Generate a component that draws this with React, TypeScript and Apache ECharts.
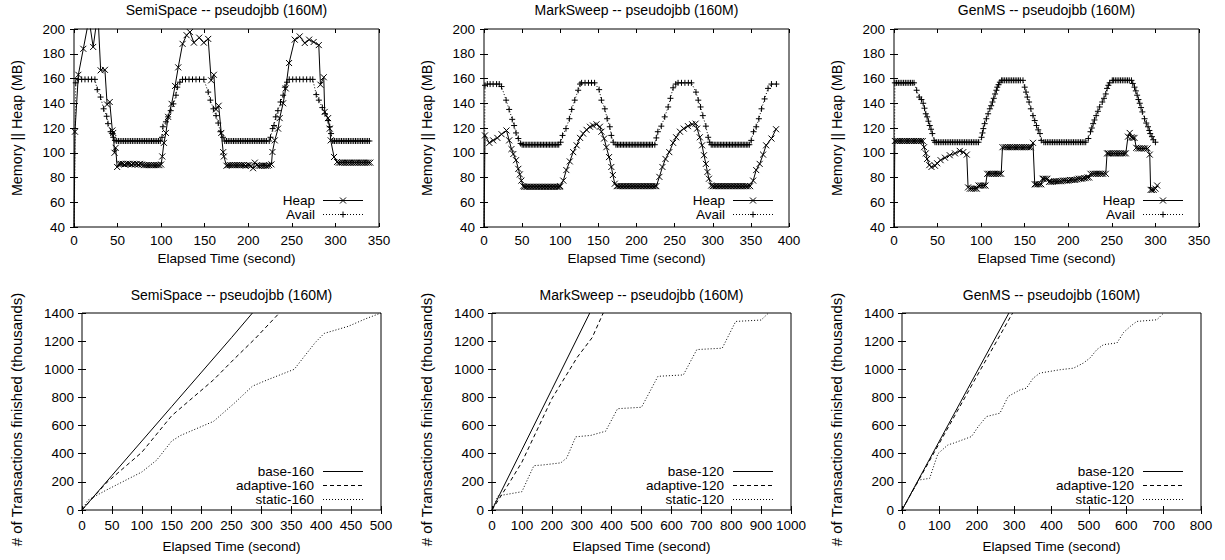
import React, { useEffect, useRef } from "react";
import * as echarts from "echarts";

const FONT = "'Liberation Sans', Arial, Helvetica, sans-serif";

const titles = ["SemiSpace -- pseudojbb (160M)", "MarkSweep -- pseudojbb (160M)", "GenMS -- pseudojbb (160M)"];
const memXMax = [350, 400, 350];
const txXMax = [500, 1000, 800];
const txXInterval = [50, 100, 100];
const memNames = ["Heap", "Avail"];
const txNames = [
  ["base-160", "adaptive-160", "static-160"],
  ["base-120", "adaptive-120", "static-120"],
  ["base-120", "adaptive-120", "static-120"],
];

// SemiSpace memory
const ssHeap = [
  [0, 30], [1.1, 117], [5, 163], [10.7, 184], [17.2, 208], [22, 185.5], [27.4, 213], [30.6, 166.6], [35.5, 167], [38, 139], [41, 141], [44, 118], [45, 116], [46.5, 100], [47.8, 104], [49.5, 88.5],
  [52, 91], [54, 91], [56, 91], [58, 90.5], [60, 91], [62, 91], [64, 91], [66, 90.5], [68, 91], [70, 90.5], [72, 91], [74, 90.5], [76, 91], [78, 90.5], [80, 90], [82, 90], [84, 90], [86, 90], [88, 90], [90, 90], [92, 90], [94, 90], [96, 90], [98, 90], [100, 90.5],
  [101.3, 97], [103.2, 108], [105.5, 116], [108, 129], [112, 139.5], [116, 154], [119.6, 169], [124.6, 188], [129.2, 195], [133, 197.5], [137.6, 189], [143.7, 193], [149, 189], [154, 192], [157.4, 158.5], [160.5, 163], [163, 135], [166, 138], [169, 116], [171.2, 100.5], [172, 97], [175, 89.5],
  [177, 90], [179, 90], [181, 90], [183, 90], [185, 90], [187, 90], [189, 90], [191, 90], [193, 90], [195, 90], [197, 89.5], [199, 90], [201, 90], [203, 89.5], [205.5, 87.5], [207.5, 92], [210, 90], [212, 89.5], [214, 89.5], [216, 89.5], [218, 89.5], [220, 89.5], [222, 89.5], [224, 90],
  [226.6, 90.6], [227.7, 100.6], [230.4, 110], [234.2, 119.5], [236, 128], [240, 140], [243, 152], [246.8, 172.5], [253.3, 191.4], [259, 194], [264.8, 188.7], [269.8, 191.4], [275, 189.5], [280.9, 187], [282.8, 155], [286.6, 161], [287.7, 133], [291.6, 128], [293.5, 119.5], [294.6, 110], [298.4, 96.6], [301.9, 92.5],
  [304, 92], [306, 92], [308, 92], [310, 92], [312, 92], [314, 92], [316, 92], [318, 92], [320, 92], [322, 92], [324, 92], [326, 92], [328, 92], [330, 92], [332, 92], [334, 92], [336, 92], [338, 92], [340, 92],
];
const ssAvail = [
  [0, 30], [2, 156.5], [5, 159.3], [8.8, 159.3], [12.6, 159.3], [16.4, 159.3], [20.2, 159.3], [24, 159.3], [26.7, 151], [30.5, 145], [34, 135.5], [37.5, 129.5], [39, 123.5], [42, 117], [44, 115.5], [45, 112.5], [47, 110],
  [49, 109.5], [51, 109.5], [53, 109.5], [55, 109.5], [57, 109.5], [59, 109.5], [61, 109.5], [63, 109.5], [65, 109.5], [67, 109.5], [69, 109.5], [71, 109.5], [73, 109.5], [75, 109.5], [77, 109.5], [79, 109.5], [81, 109.5], [83, 109.5], [85, 109.5], [87, 109.5], [89, 109.5], [91, 109.5], [93, 109.5], [95, 109.5], [97, 109.5], [99, 109.5],
  [101, 112.5], [102, 121], [105.5, 125], [108, 129], [111, 134], [114, 139.5], [117, 146.5], [118.5, 153], [121.5, 157], [124.5, 159.3], [128, 159.3], [132, 159.3], [136, 159.3], [140, 159.3], [144, 159.3], [149, 159.3], [154, 149], [156.5, 142.5], [160, 135.5], [163, 130], [165.5, 124], [168, 117], [171, 112.5], [173, 109.5],
  [175, 109.5], [177, 109.5], [179, 109.5], [181, 109.5], [183, 109.5], [185, 109.5], [187, 109.5], [189, 109.5], [191, 109.5], [193, 109.5], [195, 109.5], [197, 109.5], [199, 109.5], [201, 109.5], [203, 109.5], [205, 109.5], [207, 109.5], [209, 109.5], [211, 109.5], [213, 109.5], [215, 109.5], [217, 109.5], [219, 109.5], [221, 109.5], [224, 109.5],
  [225.5, 112.5], [228, 119.5], [229.5, 122], [231.5, 129], [234, 134], [237, 141], [240, 146.5], [242, 153], [244.5, 157], [247, 159.3], [251, 159.3], [255, 159.3], [259, 159.3], [263, 159.3], [267, 159.3], [271, 159.3], [274, 159.3], [278, 147], [281, 142.5], [285, 136.5], [288, 131.5], [291.5, 126], [293.5, 121], [295, 115.5], [297, 109.5],
  [299, 109.5], [301, 109.5], [303, 109.5], [305, 109.5], [307, 109.5], [309, 109.5], [311, 109.5], [313, 109.5], [315, 109.5], [317, 109.5], [319, 109.5], [321, 109.5], [323, 109.5], [325, 109.5], [327, 109.5], [329, 109.5], [331, 109.5], [333, 109.5], [335, 109.5], [337, 109.5], [339, 109.5],
];

// MarkSweep memory
const msHeap = [
  [0, 30], [1.3, 114], [7, 108], [12, 110], [17.5, 112], [23, 115], [29.5, 118], [33, 110], [36, 103], [38.5, 99], [42, 94], [45, 87], [47, 82.5], [49, 77.5], [51.5, 73],
  [53, 72.5], [55, 72.5], [57, 72.5], [59, 72.5], [61, 72.5], [63, 72.5], [65, 72.5], [67, 72.5], [69, 72.5], [71, 72.5], [73, 72.5], [75, 72.5], [77, 72.5], [79, 72.5], [81, 72.5], [83, 72.5], [85, 72.5], [87, 72.5], [89, 72.5], [91, 72.5], [93, 72.5], [95, 72.5], [97, 72.5], [99, 72.5],
  [100, 73], [104, 77.5], [108, 86], [112.5, 93], [117, 100.5], [121.5, 106], [126, 112], [130, 115.5], [134.5, 118.5], [139, 121], [143, 122], [147.5, 123], [152, 121], [154, 117], [157.5, 111.5], [160.5, 104.5], [164, 96.5], [167, 88.5], [169, 82], [171.5, 75], [174, 73],
  [176, 73], [178, 73], [180, 73], [182, 73], [184, 73], [186, 73], [188, 73], [190, 73], [192, 73], [194, 73], [196, 73], [198, 73], [200, 73], [202, 73], [204, 73], [206, 73], [208, 73], [210, 73], [212, 73], [214, 73], [216, 73], [218, 73], [220, 73], [222, 73], [224, 73], [226, 73],
  [230, 80.5], [234, 88.5], [238, 95], [243, 100.5], [248, 108], [252, 112.5], [257, 117], [262, 119.5], [267.5, 121.5], [273, 123], [277.5, 123.5], [279.5, 119.5], [283, 112.5], [286, 106], [288.5, 98], [291, 91], [293, 84.5], [295, 79], [298, 73.5],
  [300, 73], [302, 73], [304, 73], [306, 73], [308, 73], [310, 73], [312, 73], [314, 73], [316, 73], [318, 73], [320, 73], [322, 73], [324, 73], [326, 73], [328, 73], [330, 73], [332, 73], [334, 73], [336, 73], [338, 73], [340, 73], [342, 73], [344, 73], [346, 73], [349, 73],
  [353, 77.5], [357, 86], [361.5, 91], [366, 98.5], [370, 106], [377, 111.5], [383, 119],
];
const msAvail = [
  [0, 30], [1.3, 154.5], [4.4, 155.5], [8, 155.5], [12, 155.5], [16.5, 155.5], [20, 155.5], [23, 153.5], [29, 142.5], [33, 135], [37, 127], [39.5, 122], [42, 116], [45, 111.5], [48, 107.5],
  [50, 106.5], [52, 106.5], [54, 106.5], [56, 106.5], [58, 106.5], [60, 106.5], [62, 106.5], [64, 106.5], [66, 106.5], [68, 106.5], [70, 106.5], [72, 106.5], [74, 106.5], [76, 106.5], [78, 106.5], [80, 106.5], [82, 106.5], [84, 106.5], [86, 106.5], [88, 106.5], [90, 106.5], [92, 106.5], [94, 106.5], [96, 106.5], [98, 106.5],
  [100.5, 108.5], [103, 114], [107.5, 119.5], [112, 127.5], [115, 135], [119, 142.5], [123.5, 150.5], [126, 155.5], [128, 156.5], [132.5, 156.5], [137, 156.5], [141, 156.5], [145, 156.5], [151, 151], [154, 142.5], [158.5, 135.5], [161.5, 127.5], [165, 121], [167, 114], [169.5, 108.5], [173, 106.5],
  [175, 106.5], [177, 106.5], [179, 106.5], [181, 106.5], [183, 106.5], [185, 106.5], [187, 106.5], [189, 106.5], [191, 106.5], [193, 106.5], [195, 106.5], [197, 106.5], [199, 106.5], [201, 106.5], [203, 106.5], [205, 106.5], [207, 106.5], [209, 106.5], [211, 106.5], [213, 106.5], [215, 106.5], [217, 106.5], [219, 106.5], [221, 106.5], [224, 106.5],
  [226, 112], [228, 117], [232.5, 121.5], [237, 129], [241.5, 137], [244.5, 144], [248, 152.5], [251.5, 155.5], [254.5, 156.5], [259, 156.5], [263.5, 156.5], [268, 156.5], [272, 156.5], [278, 149], [281, 142.5], [284, 137], [287, 130], [291, 121.5], [294, 112.5], [296, 108.5], [298, 106.5],
  [300, 106.5], [302, 106.5], [304, 106.5], [306, 106.5], [308, 106.5], [310, 106.5], [312, 106.5], [314, 106.5], [316, 106.5], [318, 106.5], [320, 106.5], [322, 106.5], [324, 106.5], [326, 106.5], [328, 106.5], [330, 106.5], [332, 106.5], [334, 106.5], [336, 106.5], [338, 106.5], [340, 106.5], [342, 106.5], [344, 106.5], [346, 106.5], [348, 106.5],
  [350.5, 110], [353.5, 117], [357, 121], [360.5, 127.5], [364, 135.5], [368, 143.5], [372.5, 152], [377, 155.5], [383.5, 155.5],
];

// GenMS memory
const gmHeap = [
  [0, 30], [1, 109.5], [3, 109.5], [5, 109.5], [7, 109.5], [9, 109.5], [11, 109.5], [13, 109.5], [15, 109.5], [17, 109.5], [19, 109.5], [21, 109.5], [23, 109.5], [25, 109.5], [27, 109.5], [29, 109.5], [31, 109.5], [33, 109.5],
  [34.5, 104.5], [36.5, 99.5], [38, 95], [40.5, 90], [43, 88.5], [47, 89.5], [49.5, 91.5], [53.5, 94], [58.5, 96], [64, 98], [70, 99.5], [75.5, 101.5], [79.5, 100.5], [83.5, 98.5],
  [85, 72], [87, 71], [89, 71], [91, 71], [93, 71], [95, 71], [97, 73.5], [99, 73.5], [101, 73.5], [103, 73.5], [105, 73.5],
  [107, 83], [109, 83], [111, 83], [113, 83], [115, 83], [117, 83], [119, 83], [121, 83], [123, 83],
  [124.5, 104.5], [127, 104.5], [129, 104.5], [131, 104.5], [133, 104.5], [135, 104.5], [137, 104.5], [139, 104.5], [141, 104.5], [143, 104.5], [145, 104.5], [147, 104.5], [149, 104.5], [151, 104.5], [153, 104.5], [155, 104.5], [157, 104.5], [159.5, 108],
  [161.5, 74.5], [163, 74.5], [165, 74.5], [167, 74.5], [169, 74.5], [170.5, 79], [172, 79], [174, 79], [176, 79],
  [178, 76.5], [180, 76.5], [182, 76.5], [184, 77], [186, 77], [188, 77], [190, 77], [192, 77], [194, 77.5], [196, 77.5], [198, 77.5], [200, 77.5], [202, 78], [204, 78], [206, 78], [208, 78], [210, 78.5], [212, 79], [214, 79], [216, 79], [218, 79.5], [220, 79.5], [222, 80], [224, 80],
  [225.5, 83], [228, 83], [230, 83], [232, 83], [234, 83], [236, 83], [238, 83], [240, 83], [243, 83],
  [244.5, 99.5], [246, 99.5], [248, 99.5], [250, 99.5], [252, 99.5], [254, 99.5], [256, 99.5], [258, 99.5], [260, 99.5], [262, 99.5], [264, 99.5], [266, 99.5],
  [268.5, 113], [270.5, 116], [272.5, 112.5], [274, 112], [276, 112], [278, 104], [280, 103.5], [282, 103.5], [284, 103.5], [286, 103.5], [288, 103.5], [291, 103.5], [293.5, 98.5],
  [294.5, 70], [296, 70], [298, 70], [300, 71], [302, 73.5],
];
const gmAvail = [
  [0, 30], [1, 156.5], [3, 156.5], [5, 156.5], [7, 156.5], [9, 156.5], [11, 156.5], [13, 156.5], [15, 156.5], [17, 156.5], [19, 156.5], [21, 156.5], [23, 156.5],
  [26, 150.5], [29, 145], [31.5, 143], [33.5, 140], [35, 136], [36.5, 131.5], [38, 129], [39.5, 125.5], [41, 122], [42.5, 119], [44, 115.5], [46, 110], [47, 108.5],
  [49, 108.5], [51, 108.5], [53, 108.5], [55, 108.5], [57, 108.5], [59, 108.5], [61, 108.5], [63, 108.5], [65, 108.5], [67, 108.5], [69, 108.5], [71, 108.5], [73, 108.5], [75, 108.5], [77, 108.5], [79, 108.5], [81, 108.5], [83, 108.5], [85, 108.5], [87, 108.5], [89, 108.5], [91, 108.5], [93, 108.5], [95, 108.5], [97, 108.5],
  [100.5, 112.5], [101.5, 116], [102.5, 119.5], [104, 123.5], [106, 127.5], [108, 131.5], [110, 135.5], [111.5, 138], [113, 141], [114.5, 144], [116, 147.5], [117.5, 150.5], [118.5, 153], [120, 155], [121.5, 157], [123.5, 158.5],
  [125, 158.5], [127, 158.5], [129, 158.5], [131, 158.5], [133, 158.5], [135, 158.5], [137, 158.5], [139, 158.5], [141, 158.5], [143, 158.5], [145, 158.5], [148, 158.5],
  [150, 153], [151.5, 149], [153, 145], [155, 141], [157, 135.5], [159.5, 130], [161.5, 126], [163.5, 122], [165.5, 118.5], [167.5, 115.5], [169, 110], [172, 108.5],
  [174, 108.5], [176, 108.5], [178, 108.5], [180, 108.5], [182, 108.5], [184, 108.5], [186, 108.5], [188, 108.5], [190, 108.5], [192, 108.5], [194, 108.5], [196, 108.5], [198, 108.5], [200, 108.5], [202, 108.5], [204, 108.5], [206, 108.5], [208, 108.5], [210, 108.5], [212, 108.5], [214, 108.5], [216, 108.5], [218, 108.5], [220, 108.5],
  [223, 111.5], [225.5, 117], [227, 120], [228.5, 123.5], [230, 126.5], [232, 130], [234, 133.5], [236, 137], [239, 141], [241, 144], [243, 147.5], [244.5, 152], [246, 154.5], [247.5, 156.5], [250.5, 158.5],
  [252, 158.5], [254, 158.5], [256, 158.5], [258, 158.5], [260, 158.5], [262, 158.5], [264, 158.5], [266, 158.5], [268, 158.5], [270, 158.5], [272.5, 158.5],
  [274, 156], [276, 153], [277.5, 150], [279, 146.5], [280.5, 143], [282, 140], [283.5, 136.5], [285, 133], [287.5, 127.5], [289.5, 124], [291.5, 121], [293, 118], [294, 115.5], [296, 113], [297.5, 110.5], [300, 108.5],
];

// Transactions
const ssBase = [[0, 0], [50, 245], [100, 490], [150, 735], [200, 980], [250, 1225], [285, 1400]];
const ssAdaptive = [[0, 0], [40, 190], [100, 410], [150, 670], [220, 925], [255, 1075], [290, 1220], [330, 1400]];
const ssStatic = [[0, 0], [10, 70], [40, 140], [100, 270], [125, 355], [150, 490], [165, 530], [220, 630], [255, 760], [285, 880], [310, 925], [355, 1000], [365, 1055], [390, 1190], [405, 1255], [445, 1305], [475, 1360], [500, 1400]];

const msBase = [[0, 0], [100, 428], [200, 856], [327, 1400]];
const msAdaptive = [[0, 0], [60, 200], [100, 340], [200, 790], [285, 1085], [335, 1225], [372, 1400]];
const msStatic = [[0, 0], [20, 100], [100, 130], [140, 315], [170, 320], [230, 335], [250, 370], [280, 520], [330, 530], [380, 560], [420, 720], [500, 730], [555, 950], [640, 960], [685, 1140], [770, 1150], [815, 1340], [900, 1350], [925, 1400]];

const gmBase = [[0, 0], [100, 490], [200, 980], [286, 1400]];
const gmAdaptive = [[0, 0], [100, 475], [200, 950], [296, 1400]];
const gmStatic = [[0, 0], [45, 213], [74, 225], [96, 400], [123, 463], [137, 474], [186, 522], [204, 593], [226, 664], [262, 688], [284, 807], [316, 854], [333, 866], [351, 937], [369, 973], [423, 997], [459, 1008], [485, 1044], [503, 1080], [521, 1139], [539, 1175], [575, 1187], [593, 1262], [611, 1305], [628, 1340], [682, 1352], [700, 1400]];

const memSeries = [[ssHeap, ssAvail], [msHeap, msAvail], [gmHeap, gmAvail]];
const txSeries = [[ssBase, ssAdaptive, ssStatic], [msBase, msAdaptive, msStatic], [gmBase, gmAdaptive, gmStatic]];

const X_SYM = "path://M0,0L6,6M6,0L0,6";
const P_SYM = "path://M3,0L3,6M0,3L6,3";
const DOT = [1, 2];
const DASH = [4, 3];

const memLeft = [74, 484, 894];
const txLeft = [82, 492, 902];

function axisPair(kind: "x" | "y", gridIndex: number, min: number, max: number, interval: number, name: string, gap: number, margin: number, nameSize: number, namePad: number[]) {
  const tick = { inside: true, length: 4, lineStyle: { color: "#000", width: 1 } };
  const main: any = {
    type: "value", gridIndex, min, max, interval,
    position: kind === "x" ? "bottom" : "left",
    name, nameLocation: "middle", nameGap: gap,
    nameTextStyle: { color: "#000", fontSize: nameSize, fontFamily: FONT, padding: namePad },
    axisLine: { show: false }, axisTick: tick,
    axisLabel: { color: "#000", fontSize: 13.5, fontFamily: FONT, margin, formatter: (v: number) => String(v) },
    splitLine: { show: false },
  };
  const mirror: any = {
    type: "value", gridIndex, min, max, interval,
    position: kind === "x" ? "top" : "right",
    axisLine: { show: false }, axisTick: tick,
    axisLabel: { show: false }, splitLine: { show: false },
  };
  return [main, mirror];
}

function legendItems(textRight: number, lineL: number, lineR: number, ys: number[], names: string[], dashes: any[], markers: (string | null)[]) {
  const els: any[] = [];
  names.forEach((n, i) => {
    const y = ys[i];
    els.push({ type: "text", x: textRight, y, style: { text: n, fill: "#000", fontSize: 13.5, fontFamily: FONT, align: "right", verticalAlign: "middle" } });
    els.push({ type: "line", shape: { x1: lineL, y1: y + 0.5, x2: lineR, y2: y + 0.5 }, style: { stroke: "#000", lineWidth: 1, lineDash: dashes[i] } });
    const m = markers[i];
    const cx = (lineL + lineR) / 2;
    if (m === "x") {
      els.push({ type: "line", shape: { x1: cx - 3, y1: y - 2.5, x2: cx + 3, y2: y + 3.5 }, style: { stroke: "#000", lineWidth: 1 } });
      els.push({ type: "line", shape: { x1: cx - 3, y1: y + 3.5, x2: cx + 3, y2: y - 2.5 }, style: { stroke: "#000", lineWidth: 1 } });
    } else if (m === "+") {
      els.push({ type: "line", shape: { x1: cx, y1: y - 2.5, x2: cx, y2: y + 3.5 }, style: { stroke: "#000", lineWidth: 1 } });
      els.push({ type: "line", shape: { x1: cx - 3, y1: y + 0.5, x2: cx + 3, y2: y + 0.5 }, style: { stroke: "#000", lineWidth: 1 } });
    }
  });
  return els;
}

export default function App() {
  const ref = useRef<HTMLDivElement>(null);
  useEffect(() => {
    if (!ref.current) return;
    const chart = echarts.init(ref.current, null, { renderer: "svg" });
    const grid: any[] = [];
    const xAxis: any[] = [];
    const yAxis: any[] = [];
    const series: any[] = [];
    const title: any[] = [];
    const graphic: any[] = [];

    for (let i = 0; i < 3; i++) {
      // memory plot
      const g = 2 * i;
      grid.push({ left: memLeft[i], top: 29, width: 305, height: 198, show: true, borderColor: "#000", borderWidth: 1, backgroundColor: "transparent" });
      xAxis.push(...axisPair("x", g, 0, memXMax[i], 50, "Elapsed Time (second)", 24, 6, 13.5, [0, 0, 0, 0]));
      yAxis.push(...axisPair("y", g, 40, 200, 20, "Memory || Heap (MB)", 50, 9, 14.3, [0, 0, 0, 0]));
      title.push({ text: titles[i], left: memLeft[i] + 152.5, top: 3, textAlign: "center", padding: 0, textStyle: { color: "#000", fontSize: 14, fontWeight: "normal", fontFamily: FONT } });
      const [heap, avail] = memSeries[i];
      series.push({
        type: "line", name: memNames[0], xAxisIndex: 2 * g, yAxisIndex: 2 * g, data: heap,
        symbol: X_SYM, symbolSize: 6, showSymbol: true, clip: true, silent: true,
        lineStyle: { color: "#000", width: 1, type: "solid" },
        itemStyle: { color: "#000", borderColor: "#000", borderWidth: 1 },
      });
      series.push({
        type: "line", name: memNames[1], xAxisIndex: 2 * g, yAxisIndex: 2 * g, data: avail,
        symbol: P_SYM, symbolSize: 6, showSymbol: true, clip: true, silent: true,
        lineStyle: { color: "#000", width: 1, type: DOT },
        itemStyle: { color: "#000", borderColor: "#000", borderWidth: 1 },
      });
      graphic.push(...legendItems(memLeft[i] + 241, memLeft[i] + 249, memLeft[i] + 289, [200, 214], memNames, [null, DOT], ["x", "+"]));

      // transactions plot
      const t = 2 * i + 1;
      grid.push({ left: txLeft[i], top: 313, width: 299, height: 197, show: true, borderColor: "#000", borderWidth: 1, backgroundColor: "transparent" });
      xAxis.push(...axisPair("x", t, 0, txXMax[i], txXInterval[i], "Elapsed Time (second)", 29, 8, 13.5, [0, 0, 0, 0]));
      yAxis.push(...axisPair("y", t, 0, 1400, 200, "# of Transactions finished (thousands)", 58, 8, 15, [0, 16, 0, 0]));
      title.push({ text: titles[i], left: txLeft[i] + 149.5, top: 288, textAlign: "center", padding: 0, textStyle: { color: "#000", fontSize: 14, fontWeight: "normal", fontFamily: FONT } });
      const styles = ["solid", DASH, DOT];
      txSeries[i].forEach((d, k) => {
        series.push({
          type: "line", name: txNames[i][k], xAxisIndex: 2 * t, yAxisIndex: 2 * t, data: d,
          symbol: "none", showSymbol: false, clip: true, silent: true,
          lineStyle: { color: "#000", width: 1, type: styles[k] },
        });
      });
      graphic.push(...legendItems(txLeft[i] + 232, txLeft[i] + 241, txLeft[i] + 281, [471, 485, 499], txNames[i], [null, DASH, DOT], [null, null, null]));
    }

    chart.setOption({
      animation: false,
      backgroundColor: "#fff",
      textStyle: { fontFamily: FONT },
      title, grid, xAxis, yAxis, series, graphic,
    });
    return () => chart.dispose();
  }, []);
  return <div ref={ref} style={{ position: "absolute", left: 0, top: 0, width: 1225, height: 560 }} />;
}
